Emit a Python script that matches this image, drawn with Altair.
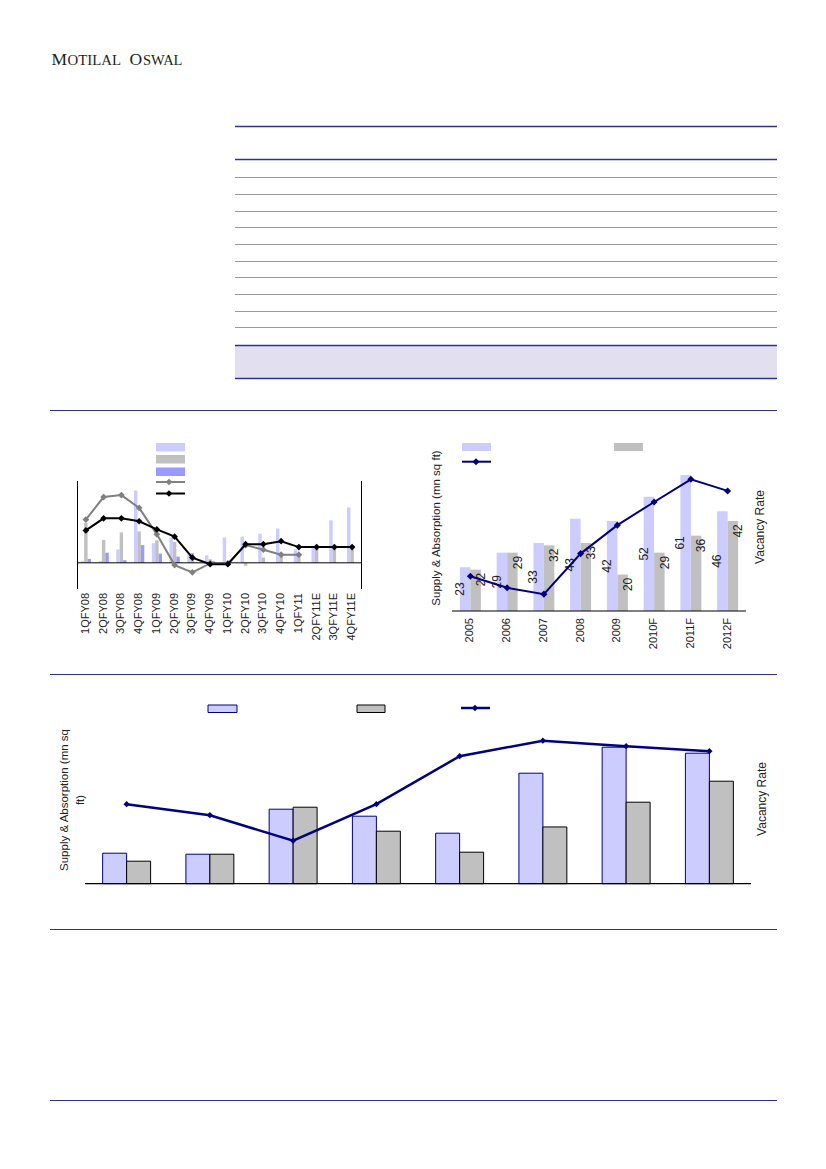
import altair as alt
import pandas as pd

# ---------------- DATA ----------------
# Quarterly chart (top-left)
quarters = ["1QFY08", "2QFY08", "3QFY08", "4QFY08", "1QFY09", "2QFY09", "3QFY09", "4QFY09",
            "1QFY10", "2QFY10", "3QFY10", "4QFY10", "1QFY11", "2QFY11E", "3QFY11E", "4QFY11E"]
q_bar_light = [0.6, 0.5, 4.1, 22.1, 6.0, 7.7, 2.5, 2.3, 7.7, 8.0, 8.9, 10.5, 4.1, 4.9, 13.0, 16.9]
q_bar_gray = [12.2, 7.0, 9.3, 9.6, 6.9, 6.4, 3.0, 1.1, 0.5, -0.9, 1.6, 2.6, 2.6, 4.2, 4.2, 4.3]
q_bar_blue = [1.2, 3.1, 0.8, 5.4, 2.8, 1.9, None, 0.5, None, None, None, None, None, None, None, None]
q_line_gray = [13.2, 20.1, 20.7, 16.8, 8.7, -0.7, -2.9, -0.2, -0.2, 5.4, 4.0, 2.5, 2.5]
q_line_black = [9.9, 13.6, 13.6, 12.7, 10.2, 8.0, 1.6, -0.4, -0.4, 5.7, 5.7, 6.6, 4.8, 4.8, 4.8, 4.8]

# Annual supply / absorption (top-right)
years = ["2005", "2006", "2007", "2008", "2009", "2010F", "2011F", "2012F"]
supply = [23, 29, 33, 43, 42, 52, 61, 46]
absorption = [22, 29, 32, 33, 20, 29, 36, 42]
vacancy = [6.6, 4.4, 3.2, 10.9, 16.3, 20.7, 25.0, 22.8]

# Annual supply / absorption (bottom)
b_years = ["2005", "2006", "2007", "2008", "2009", "2010F", "2011F", "2012F"]
b_supply = [12.2, 11.8, 29.8, 27.0, 20.2, 44.2, 54.6, 52.2]
b_absorption = [9.0, 11.8, 30.6, 21.0, 12.6, 22.7, 32.6, 41.0]
b_vacancy = [15.9, 13.7, 8.6, 15.9, 25.5, 28.6, 27.5, 26.5]

# ---------------- LAYOUT HELPERS ----------------
O = 8  # page margin
FONT = "Liberation Sans"
TXT = "#222222"
NAVY_RULE = "#2e3192"
LAV = "#ccccff"
GRY = "#c0c0c0"
BLU = "#9999ff"
NAVY = "#000080"


def v(p):
    return alt.value(p - O)


def hrule(y, x1, x2, color, w=1.0):
    return alt.Chart().mark_rule(color=color, strokeWidth=w).encode(x=v(x1), x2=v(x2), y=v(y))


def vrule(x, y1, y2, color="black", w=1.0):
    return alt.Chart().mark_rule(color=color, strokeWidth=w).encode(x=v(x), y=v(y1), y2=v(y2))


def box(x1, x2, y1, y2, fill, stroke=None):
    kw = dict(color=fill)
    if stroke:
        kw.update(stroke=stroke, strokeWidth=1)
    return alt.Chart().mark_rect(**kw).encode(x=v(x1), x2=v(x2), y=v(y1), y2=v(y2))


def label(txt, x, y, size=11.5, angle=0, align="center", baseline="middle", font=FONT, color=TXT):
    kw = dict(text=txt, fontSize=size, align=align, baseline=baseline, font=font, color=color)
    if angle:
        kw["angle"] = angle
    return alt.Chart().mark_text(**kw).encode(x=v(x), y=v(y))


def legend_line(x1, x2, y, xm, color, w=2, size=45):
    return [hrule(y, x1, x2, color, w),
            alt.Chart().mark_point(shape="diamond", filled=True, size=size, color=color, opacity=1).encode(x=v(xm), y=v(y))]


layers = []

# ---------------- HEADER ----------------
SERIF = "Liberation Serif"
HC = "#231f20"
layers += [
    label("M", 51.5, 64.5, size=17.5, align="left", baseline="alphabetic", font=SERIF, color=HC),
    label("OTILAL", 67.5, 64.5, size=14.8, align="left", baseline="alphabetic", font=SERIF, color=HC),
    label("O", 129.5, 64.5, size=17.5, align="left", baseline="alphabetic", font=SERIF, color=HC),
    label("SWAL", 143, 64.5, size=14.5, align="left", baseline="alphabetic", font=SERIF, color=HC),
]

# ---------------- TABLE ----------------
layers.append(box(235, 777, 345, 378, "#e1dff0"))
for yy in [177, 194, 211, 227, 244, 261, 277, 294, 311, 327]:
    layers.append(hrule(yy + 0.5, 235, 777, "#999999", 1))
for yy in [126, 159, 345, 378]:
    layers.append(hrule(yy + 0.5, 235, 777, NAVY_RULE, 1.3))

# section rules
for yy in [410, 674, 929, 1100]:
    layers.append(hrule(yy + 0.5, 50, 777, NAVY_RULE, 1.2))

# ---------------- TOP-LEFT CHART ----------------
q_series = ["light", "gray", "blue"]
rows = []
for s, vals in zip(q_series, [q_bar_light, q_bar_gray, q_bar_blue]):
    for q, val in zip(quarters, vals):
        if val is not None:
            rows.append({"quarter": q, "series": s, "value": val})
df_qb = pd.DataFrame(rows)
df_qg = pd.DataFrame({"quarter": quarters[:len(q_line_gray)], "idx": list(range(len(q_line_gray))), "value": q_line_gray})
df_qk = pd.DataFrame({"quarter": quarters, "idx": list(range(len(quarters))), "value": q_line_black})
df_ql = pd.DataFrame({"quarter": quarters})

xq_band = alt.Scale(domain=quarters, range=[77 - O, 361 - O], paddingInner=0.42, paddingOuter=0.21)
xq_point = alt.Scale(type="point", domain=quarters, range=[77 - O, 361 - O], padding=0.5)
yq = alt.Scale(domain=[-8, 25], range=[589 - O, 481 - O], nice=False, zero=False)

layers.append(
    alt.Chart(df_qb).mark_bar().encode(
        x=alt.X("quarter:N", scale=xq_band, axis=None),
        xOffset=alt.XOffset("series:N", scale=alt.Scale(domain=q_series, paddingInner=0, paddingOuter=0)),
        y=alt.Y("value:Q", scale=yq, axis=None),
        color=alt.Color("series:N", scale=alt.Scale(domain=q_series, range=[LAV, GRY, BLU]), legend=None),
    )
)
layers.append(alt.Chart().mark_rule(color="black", strokeWidth=1).encode(
    x=v(77), x2=v(361), y=alt.YDatum(0, scale=yq, axis=None)))
layers += [vrule(77.5, 481, 589), vrule(361.5, 481, 589)]
layers.append(
    alt.Chart(df_qg).mark_line(color="#808080", strokeWidth=2,
                               point=alt.OverlayMarkDef(shape="diamond", filled=True, size=45, color="#808080")).encode(
        x=alt.X("quarter:N", scale=xq_point, axis=None),
        y=alt.Y("value:Q", scale=yq, axis=None),
        order="idx:Q",
    )
)
layers.append(
    alt.Chart(df_qk).mark_line(color="black", strokeWidth=2,
                               point=alt.OverlayMarkDef(shape="diamond", filled=True, size=45, color="black")).encode(
        x=alt.X("quarter:N", scale=xq_point, axis=None),
        y=alt.Y("value:Q", scale=yq, axis=None),
        order="idx:Q",
    )
)
layers.append(
    alt.Chart(df_ql).mark_text(angle=270, align="right", baseline="middle", fontSize=11, font=FONT, color=TXT).encode(
        x=alt.X("quarter:N", scale=xq_point, axis=None),
        y=v(593),
        text="quarter:N",
    )
)
# legend
layers += [box(156, 185, 443, 451.5, LAV), box(156, 185, 455, 463.5, GRY), box(156, 185, 467.5, 476, BLU)]
layers += legend_line(156, 185, 482, 169, "#808080")
layers += legend_line(156, 185, 493.5, 169, "black")

# ---------------- TOP-RIGHT CHART ----------------
tr_series = ["supply", "absorption"]
df_tr = pd.DataFrame(
    [{"year": y, "series": "supply", "value": s} for y, s in zip(years, supply)]
    + [{"year": y, "series": "absorption", "value": a} for y, a in zip(years, absorption)]
)
df_vac = pd.DataFrame({"year": years, "idx": list(range(len(years))), "vac": vacancy})
df_yl = pd.DataFrame({"year": years})

xtr_band = alt.Scale(domain=years, range=[452 - O, 746 - O], paddingInner=0.43, paddingOuter=0.215)
xtr_point = alt.Scale(type="point", domain=years, range=[452 - O, 746 - O], padding=0.5)
xtr_off = alt.Scale(domain=tr_series, paddingInner=0, paddingOuter=0)
ytr = alt.Scale(domain=[5, 70], range=[611 - O, 453 - O], nice=False, zero=False)
yvac = alt.Scale(domain=[0, 30], range=[611 - O, 453 - O], nice=False, zero=False)

layers.append(
    alt.Chart(df_tr).mark_bar().encode(
        x=alt.X("year:N", scale=xtr_band, axis=None),
        xOffset=alt.XOffset("series:N", scale=xtr_off),
        y=alt.Y("value:Q", scale=ytr, axis=None),
        y2=alt.datum(5),
        color=alt.Color("series:N", scale=alt.Scale(domain=tr_series, range=[LAV, GRY]), legend=None),
    )
)
# value labels
layers.append(
    alt.Chart(df_tr).transform_filter(alt.datum.series == "supply").transform_calculate(
        mid="(datum.value + 5) / 2").mark_text(
        angle=270, align="center", baseline="middle", fontSize=12, font=FONT, color=TXT).encode(
        x=alt.X("year:N", scale=xtr_band, axis=None),
        xOffset=alt.XOffset("series:N", scale=xtr_off),
        y=alt.Y("mid:Q", scale=ytr, axis=None),
        text="value:Q",
    )
)
layers.append(
    alt.Chart(df_tr).transform_filter(alt.datum.series == "absorption").transform_calculate(
        top="datum.value - 1.3").mark_text(
        angle=270, align="right", baseline="middle", fontSize=12, font=FONT, color=TXT).encode(
        x=alt.X("year:N", scale=xtr_band, axis=None),
        xOffset=alt.XOffset("series:N", scale=xtr_off),
        y=alt.Y("top:Q", scale=ytr, axis=None),
        text="value:Q",
    )
)
layers.append(alt.Chart().mark_rule(color="black", strokeWidth=1).encode(
    x=v(452), x2=v(746), y=alt.YDatum(5, scale=ytr, axis=None)))
layers.append(
    alt.Chart(df_vac).mark_line(color=NAVY, strokeWidth=2,
                                point=alt.OverlayMarkDef(shape="diamond", filled=True, size=50, color=NAVY)).encode(
        x=alt.X("year:N", scale=xtr_point, axis=None),
        y=alt.Y("vac:Q", scale=yvac, axis=None),
        order="idx:Q",
    )
)
layers.append(
    alt.Chart(df_yl).mark_text(angle=270, align="right", baseline="middle", fontSize=11, font=FONT, color=TXT).encode(
        x=alt.X("year:N", scale=xtr_point, axis=None),
        y=v(618),
        text="year:N",
    )
)
layers += [label("Supply & Absorption (mn sq ft)", 437, 528, angle=270),
           label("Vacancy Rate", 760, 527, angle=270, size=12)]
layers += [box(462, 491, 443, 451, LAV), box(614, 643, 443, 451, GRY)]
layers += legend_line(462, 491, 461.7, 476, NAVY, size=50)

# ---------------- BOTTOM CHART ----------------
df_b = pd.DataFrame(
    [{"year": y, "series": "supply", "value": s} for y, s in zip(b_years, b_supply)]
    + [{"year": y, "series": "absorption", "value": a} for y, a in zip(b_years, b_absorption)]
)
df_bvac = pd.DataFrame({"year": b_years, "idx": list(range(len(b_years))), "vac": b_vacancy})

xb_band = alt.Scale(domain=b_years, range=[85 - O, 751 - O], paddingInner=0.424, paddingOuter=0.212)
xb_point = alt.Scale(type="point", domain=b_years, range=[85 - O, 751 - O], padding=0.5)
yb = alt.Scale(domain=[0, 70], range=[883.7 - O, 708.7 - O], nice=False, zero=False)
ybvac = alt.Scale(domain=[0, 35], range=[883.7 - O, 708.7 - O], nice=False, zero=False)

layers.append(
    alt.Chart(df_b).mark_bar(strokeWidth=1).encode(
        x=alt.X("year:N", scale=xb_band, axis=None),
        xOffset=alt.XOffset("series:N", scale=xtr_off),
        y=alt.Y("value:Q", scale=yb, axis=None),
        color=alt.Color("series:N", scale=alt.Scale(domain=tr_series, range=[LAV, GRY]), legend=None),
        stroke=alt.Stroke("series:N", scale=alt.Scale(domain=tr_series, range=[NAVY, "black"]), legend=None),
    )
)
layers.append(alt.Chart().mark_rule(color="black", strokeWidth=1.2).encode(
    x=v(85), x2=v(751), y=alt.YDatum(0, scale=yb, axis=None)))
layers.append(
    alt.Chart(df_bvac).mark_line(color=NAVY, strokeWidth=2.5,
                                 point=alt.OverlayMarkDef(shape="diamond", filled=True, size=40, color=NAVY)).encode(
        x=alt.X("year:N", scale=xb_point, axis=None),
        y=alt.Y("vac:Q", scale=ybvac, axis=None),
        order="idx:Q",
    )
)
layers += [label("Supply & Absorption (mn sq", 65, 800, angle=270),
           label("ft)", 81, 800, angle=270),
           label("Vacancy Rate", 762, 799, angle=270, size=12)]
layers += [box(208, 237, 705, 712.5, LAV, NAVY), box(357, 385, 705, 712.5, GRY, "black")]
layers += legend_line(461, 490, 708, 475, NAVY, w=2.5, size=40)

chart = alt.layer(*layers).resolve_scale(
    x="independent", y="independent", color="independent", xOffset="independent", stroke="independent"
).properties(
    width=810, height=1153, autosize=alt.AutoSizeParams(type="none"), padding=0
).configure_view(stroke=None)

chart.save("out.html", embed_options={"renderer": "svg", "actions": False})
